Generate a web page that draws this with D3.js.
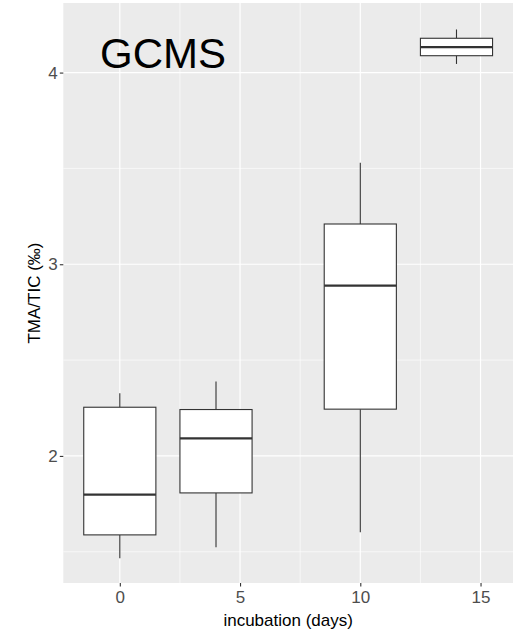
<!DOCTYPE html>
<html>
<head>
<meta charset="utf-8">
<script src="https://cdn.jsdelivr.net/npm/d3@7"></script>
<style>
  html, body { margin: 0; padding: 0; background: #ffffff; }
  svg { display: block; font-family: "Liberation Sans", Arial, sans-serif; }
</style>
</head>
<body>
<svg id="chart" width="519" height="633"></svg>
<script>
// Incubation day of each group
const days = [0, 4, 10, 14];
// Five-number summaries of TMA/TIC (‰) per group
const whiskerLow  = [1.466, 1.524, 1.602, 4.045];
const lowerHinge  = [1.588, 1.807, 2.244, 4.088];
const medians     = [1.798, 2.092, 2.888, 4.133];
const upperHinge  = [2.254, 2.242, 3.210, 4.179];
const whiskerHigh = [2.327, 2.388, 3.530, 4.225];
// Axis ticks
const xTicks = [0, 5, 10, 15];
const xMinor = [2.5, 7.5, 12.5];
const yTicks = [2, 3, 4];
const yMinor = [1.5, 2.5, 3.5];

const boxWidth = 3; // in days

const svg = d3.select("#chart");
const panel = { left: 63.3, right: 513, top: 3, bottom: 583 };

const x = d3.scaleLinear().domain([-2.35, 16.35]).range([panel.left, panel.right]);
const y = d3.scaleLinear().domain([1.337, 4.363]).range([panel.bottom, panel.top]);

// Panel background
svg.append("rect")
  .attr("x", panel.left).attr("y", panel.top)
  .attr("width", panel.right - panel.left).attr("height", panel.bottom - panel.top)
  .attr("fill", "#ebebeb");

const grid = svg.append("g");
// Minor grid
grid.selectAll(".xminor").data(xMinor).join("line")
  .attr("x1", d => x(d)).attr("x2", d => x(d))
  .attr("y1", panel.top).attr("y2", panel.bottom)
  .attr("stroke", "#ffffff").attr("stroke-width", 0.6);
grid.selectAll(".yminor").data(yMinor).join("line")
  .attr("y1", d => y(d)).attr("y2", d => y(d))
  .attr("x1", panel.left).attr("x2", panel.right)
  .attr("stroke", "#ffffff").attr("stroke-width", 0.6);
// Major grid
grid.selectAll(".xmajor").data(xTicks).join("line")
  .attr("x1", d => x(d)).attr("x2", d => x(d))
  .attr("y1", panel.top).attr("y2", panel.bottom)
  .attr("stroke", "#ffffff").attr("stroke-width", 1.2);
grid.selectAll(".ymajor").data(yTicks).join("line")
  .attr("y1", d => y(d)).attr("y2", d => y(d))
  .attr("x1", panel.left).attr("x2", panel.right)
  .attr("stroke", "#ffffff").attr("stroke-width", 1.2);

// Axes
const xAxis = svg.append("g")
  .attr("transform", `translate(0,${panel.bottom})`)
  .call(d3.axisBottom(x).tickValues(xTicks).tickSize(3.5).tickPadding(4).tickFormat(d3.format("d")));
const yAxis = svg.append("g")
  .attr("transform", `translate(${panel.left},0)`)
  .call(d3.axisLeft(y).tickValues(yTicks).tickSize(3.5).tickPadding(2).tickFormat(d3.format("d")));
[xAxis, yAxis].forEach(a => {
  a.select(".domain").remove();
  a.selectAll(".tick line").attr("stroke", "#333333").attr("stroke-width", 1.1);
  a.selectAll(".tick text")
    .attr("fill", "#4d4d4d")
    .attr("font-size", 17)
    .attr("font-family", "Liberation Sans, Arial, sans-serif");
});

// Boxes
const groups = days.map((d, i) => ({
  day: d, lo: whiskerLow[i], q1: lowerHinge[i], med: medians[i], q3: upperHinge[i], hi: whiskerHigh[i]
}));
const boxes = svg.append("g").selectAll("g").data(groups).join("g");
boxes.append("line")
  .attr("x1", d => x(d.day)).attr("x2", d => x(d.day))
  .attr("y1", d => y(d.q3)).attr("y2", d => y(d.hi))
  .attr("stroke", "#333333").attr("stroke-width", 1.1);
boxes.append("line")
  .attr("x1", d => x(d.day)).attr("x2", d => x(d.day))
  .attr("y1", d => y(d.q1)).attr("y2", d => y(d.lo))
  .attr("stroke", "#333333").attr("stroke-width", 1.1);
boxes.append("rect")
  .attr("x", d => x(d.day - boxWidth / 2))
  .attr("width", d => x(d.day + boxWidth / 2) - x(d.day - boxWidth / 2))
  .attr("y", d => y(d.q3))
  .attr("height", d => y(d.q1) - y(d.q3))
  .attr("fill", "#ffffff").attr("stroke", "#333333").attr("stroke-width", 1.1);
boxes.append("line")
  .attr("x1", d => x(d.day - boxWidth / 2)).attr("x2", d => x(d.day + boxWidth / 2))
  .attr("y1", d => y(d.med)).attr("y2", d => y(d.med))
  .attr("stroke", "#333333").attr("stroke-width", 2.2);

// Axis titles
svg.append("text")
  .attr("x", (panel.left + panel.right) / 2).attr("y", 626)
  .attr("text-anchor", "middle").attr("font-size", 17).attr("fill", "#000")
  .text("incubation (days)");
svg.append("text")
  .attr("transform", `translate(40,${(panel.top + panel.bottom) / 2}) rotate(-90)`)
  .attr("text-anchor", "middle").attr("font-size", 17).attr("fill", "#000")
  .text("TMA/TIC (‰)");

// Panel annotation
svg.append("text")
  .attr("x", 100).attr("y", 68)
  .attr("font-size", 42).attr("fill", "#000")
  .text("GCMS");
</script>
</body>
</html>
